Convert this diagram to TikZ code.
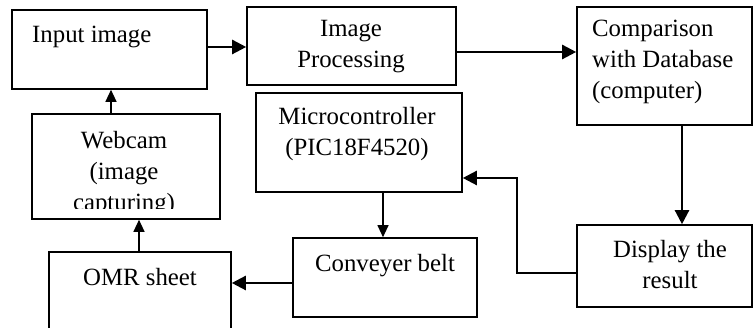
\documentclass[tikz,border=0pt]{standalone}
\usepackage{fontspec}
\setmainfont{Liberation Serif}
\usetikzlibrary{arrows.meta}
\begin{document}
\begin{tikzpicture}[x=1pt,y=1pt,
  blk/.style={draw,line width=1.6pt,rectangle,inner sep=0pt},
  txt/.style={inner sep=0pt,font=\fontsize{24.8}{31}\selectfont},
  thickarrow/.style={line width=2.4pt,-{Triangle[length=14pt,width=14pt]}},
  thinarrow/.style={line width=1.1pt,-{Triangle[length=12pt,width=11pt]}}]
\useasboundingbox (0,0) rectangle (753,328);
\clip (0,0) rectangle (753,328);
% boxes
\node[blk,minimum width=195,minimum height=79] (inp) at (109.5,278.5) {};
\node[blk,minimum width=209,minimum height=78] (proc) at (351.5,282) {};
\node[blk,minimum width=175,minimum height=118] (comp) at (664.5,262) {};
\node[blk,minimum width=206,minimum height=99] (mcu) at (359,185.5) {};
\node[blk,minimum width=188,minimum height=105] (web) at (126,161.5) {};
\node[blk,minimum width=182,minimum height=96] (omr) at (140,28) {};
\node[blk,minimum width=184,minimum height=79] (conv) at (385,50.5) {};
\node[blk,minimum width=175,minimum height=82] (disp) at (664.5,62) {};
% texts
\node[txt,anchor=base west] (tinp) at (32,285) {Input image};
\node[txt,anchor=north,align=center] (tproc) at (351,308) {Image\\Processing};
\node[txt,anchor=north west,align=left] (tcomp) at (592,308) {Comparison\\with Database\\(computer)};
\node[txt,anchor=north,align=center] (tmcu) at (357,221) {Microcontroller\\(PIC18F4520)};
\begin{scope}
\clip (32,119) rectangle (220,214);
\node[txt,anchor=north,align=center] (tweb) at (124,197) {Webcam\\(image\\capturing)};
\end{scope}
\node[txt,anchor=base] (tomr) at (140,42) {OMR sheet};
\node[txt,anchor=base] (tconv) at (385,56) {Conveyer belt};
\node[txt,anchor=north,align=center] (tdisp) at (670,88) {Display the\\result};
% connectors
\draw[thickarrow] ([yshift=2.5]inp.east) -- ([yshift=2.5]inp.east -| proc.west);
\draw[thickarrow] ([yshift=-6]proc.east) -- ([yshift=-6]proc.east -| comp.west);
\draw[thickarrow] ([xshift=17.5]comp.south) -- ([xshift=17.5]comp.south |- disp.north);
\coordinate (bend) at (517,150);
\draw[thickarrow] ([yshift=-7]disp.west) -| (bend) -- (bend -| mcu.east);
\draw[thinarrow] ([xshift=24]mcu.south) -- ([xshift=24]mcu.south |- conv.north);
\draw[thickarrow] ([yshift=-5.5]conv.west) -- ([yshift=-5.5]conv.west -| omr.east);
\draw[thinarrow] ([xshift=-1]omr.north) -- ([xshift=-1]omr.north |- web.south);
\draw[thinarrow] ([xshift=-15]web.north) -- ([xshift=-15]web.north |- inp.south);
\end{tikzpicture}
\end{document}
